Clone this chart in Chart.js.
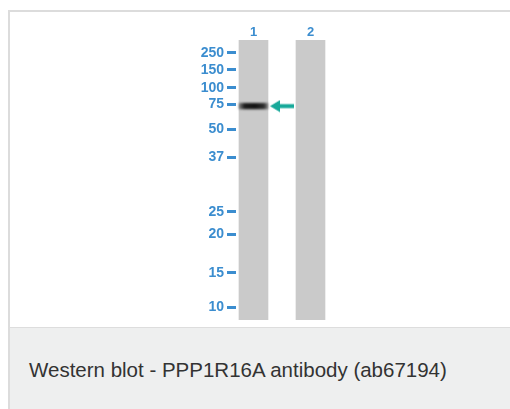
<!DOCTYPE html>
<html>
<head>
<meta charset="utf-8">
<script src="https://cdn.jsdelivr.net/npm/chart.js@4"></script>
<style>
  body{margin:0;background:#fff;font-family:"Liberation Sans",Arial,sans-serif;}
  .frame{position:absolute;left:8px;top:10px;width:520px;height:420px;border-left:2px solid #dcdcdc;border-top:2px solid #dcdcdc;background:#fff;}
  .caption{position:absolute;left:0;top:315px;width:100%;height:110px;background:#eeefef;border-top:1px solid #dddddd;}
  .caption span{position:absolute;left:19px;top:32px;font-size:20.5px;line-height:20px;color:#333;white-space:nowrap;}
  #blot{position:absolute;left:0;top:0;}
</style>
</head>
<body>
<div class="frame">
  <div class="caption"><span>Western blot - PPP1R16A antibody (ab67194)</span></div>
</div>
<canvas id="blot" width="510" height="327"></canvas>
<script>
// lanes and marker ladder (relative mobility, 0 = top of gel, 1 = bottom)
const laneLabels = ['1', '2'];
const laneX = [1, 2];
const markerLabels = ['250', '150', '100', '75', '50', '37', '25', '20', '15', '10'];
const markerRf = [0.046, 0.107, 0.171, 0.229, 0.318, 0.418, 0.614, 0.693, 0.832, 0.954];
const bandLane = [1];
const bandRf = [[0.226, 0.246]];
const arrowX = 1.5;
const arrowRf = 0.236;

const blue = '#3b8dcf';
const teal = '#17a99a';

function arrowImg(){
  const c = document.createElement('canvas');
  c.width = 24; c.height = 13;
  const g = c.getContext('2d');
  g.fillStyle = teal;
  g.beginPath();
  g.moveTo(0, 6.5); g.lineTo(10, 0.5); g.lineTo(10, 12.5); g.closePath();
  g.fill();
  g.fillRect(9, 4.5, 15, 4);
  return c;
}

const blurBand = {
  id:'blurBand',
  beforeDatasetDraw(chart, args){
    if(args.index===1){ chart.ctx.save(); chart.ctx.filter = 'blur(0.8px)'; }
  },
  afterDatasetDraw(chart, args){
    if(args.index===1) chart.ctx.restore();
  }
};

function bandFill(c){
  const chart = c.chart;
  const xs = chart.scales.x;
  if(!xs) return '#1c1c1c';
  const cx = xs.getPixelForValue(bandLane[0]);
  if(!isFinite(cx)) return '#1c1c1c';
  const g = chart.ctx.createLinearGradient(cx-15, 0, cx+15, 0);
  g.addColorStop(0, 'rgba(70,70,70,0.55)');
  g.addColorStop(0.2, '#1c1c1c');
  g.addColorStop(0.55, '#141414');
  g.addColorStop(0.85, '#2e2e2e');
  g.addColorStop(1, 'rgba(80,80,80,0.5)');
  return g;
}

function noPad(s){ s.paddingLeft = 0; s.paddingRight = 0; s.paddingTop = 0; s.paddingBottom = 0; }

new Chart(document.getElementById('blot'), {
  type:'bar',
  data:{
    datasets:[
      {label:'lanes', data: laneX.map(x=>({x, y:[0, 1]})), backgroundColor:'#cacaca', barThickness:29, grouped:false, order:3},
      {label:'band', data: bandLane.map((x,i)=>({x, y:bandRf[i]})), backgroundColor: bandFill, barThickness:29, grouped:false, order:2},
      {type:'scatter', label:'arrow', data:[{x:arrowX, y:arrowRf}], pointStyle: arrowImg(), radius:12, clip:false, order:1}
    ]
  },
  plugins:[blurBand],
  options:{
    responsive:false,
    animation:false,
    devicePixelRatio:1,
    layout:{ autoPadding:false, padding:{top:12, bottom:7, left:0, right:171} },
    plugins:{ legend:{display:false}, tooltip:{enabled:false} },
    scales:{
      x:{
        type:'linear', position:'top', min:0.693, max:2.5, offset:false,
        grid:{display:false, drawTicks:false}, border:{display:false},
        afterBuildTicks: s => { s.ticks = laneX.map(v=>({value:v})); },
        afterFit: s => { s.height = 28; noPad(s); },
        ticks:{ padding:0, color:blue, font:{family:'Liberation Sans', size:13, weight:'bold'}, callback:(v,i)=>laneLabels[i] }
      },
      y:{
        type:'linear', reverse:true, min:0, max:1,
        border:{display:false},
        grid:{ drawOnChartArea:false, drawTicks:true, tickLength:9, tickWidth:3, tickColor:blue },
        afterBuildTicks: s => { s.ticks = markerRf.map(v=>({value:v})); },
        afterFit: s => { s.width = 236; noPad(s); },
        ticks:{ padding:3, color:blue, font:{family:'Liberation Sans', size:14, weight:'bold'}, callback:(v,i)=>markerLabels[i] }
      }
    }
  }
});
</script>
</body>
</html>
